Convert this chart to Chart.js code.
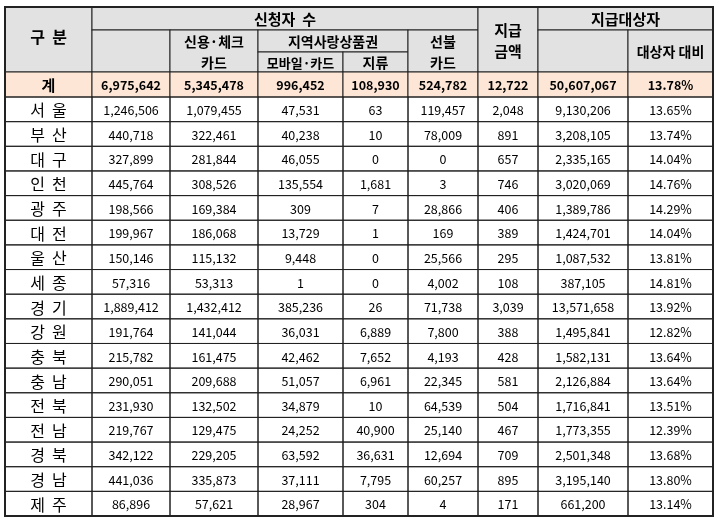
<!DOCTYPE html>
<html>
<head>
<meta charset="utf-8">
<script src="https://cdn.jsdelivr.net/npm/chart.js@4/dist/chart.umd.min.js"></script>
<style>
body{margin:0;background:#fff}
#wrap{width:720px;height:522px}
</style>
</head>
<body>
<div id="wrap"><canvas id="table" width="720" height="522"></canvas></div>
<script>
// =============================
// DATA
// =============================

const regions=["서  울","부  산","대  구","인  천","광  주","대  전","울  산","세  종","경  기","강  원","충  북","충  남","전  북","전  남","경  북","경  남","제  주"]
const applicants=[1246506,440718,327899,445764,198566,199967,150146,57316,1889412,191764,215782,290051,231930,219767,342122,441036,86896]
const creditCard=[1079455,322461,281844,308526,169384,186068,115132,53313,1432412,141044,161475,209688,132502,129475,229205,335873,57621]
const mobileCard=[47531,40238,46055,135554,309,13729,9448,1,385236,36031,42462,51057,34879,24252,63592,37111,28967]
const paperVoucher=[63,10,0,1681,7,1,0,0,26,6889,7652,6961,10,40900,36631,7795,304]
const prepaidCard=[119457,78009,0,3,28866,169,25566,4002,71738,7800,4193,22345,64539,25140,12694,60257,4]
const payAmount=[2048,891,657,746,406,389,295,108,3039,388,428,581,504,467,709,895,171]
const targets=[9130206,3208105,2335165,3020069,1389786,1424701,1087532,387105,13571658,1495841,1582131,2126884,1716841,1773355,2501348,3195140,661200]
const ratio=["13.65%","13.74%","14.04%","14.76%","14.29%","14.04%","13.81%","14.81%","13.92%","12.82%","13.64%","13.64%","13.51%","12.39%","13.68%","13.80%","13.14%"]
const totals=["6,975,642","5,345,478","996,452","108,930","524,782","12,722","50,607,067","13.78%"]

// =============================
// LAYOUT (scale units)
// =============================

const colEdges=[5,92,170,258,343,408,478,538,628,713]
const headEdges=[7,30,52,72,97]
const rowBottom=516
const rowH=(rowBottom-headEdges[4])/regions.length

const FONT='"Noto Sans CJK KR","Noto Sans",sans-serif'

// [col0,col1,row0,row1,text,size,yShift]
const headerCells=[
[0,1,0,3,"구  분",16,-4],
[1,6,0,1,"신청자  수",15,0],
[1,2,1,3,"",13,0],
[2,3,1,3,"신용·체크\n카드",14,0],
[3,5,1,2,"지역사랑상품권",14,0],
[3,4,2,3,"모바일·카드",13,0],
[4,5,2,3,"지류",14,0],
[5,6,1,3,"선불\n카드",14,0],
[6,7,0,3,"지급\n금액",15,0],
[7,9,0,1,"지급대상자",15,0],
[7,8,1,3,"",13,0],
[8,9,1,3,"대상자 대비",14,0]
]

const fmt=v=>v.toLocaleString("en-US")

// =============================
// TABLE PLUGIN
// =============================

const tablePlugin={
id:"tableDraw",
afterDraw(chart){

const ctx=chart.ctx
const xs=chart.scales.x
const ys=chart.scales.y
const X=v=>xs.getPixelForValue(v)
const Y=v=>ys.getPixelForValue(v)

ctx.save()
ctx.textAlign="center"
ctx.textBaseline="middle"

function cell(x0,x1,y0,y1,fill,text,font,dy){
const px=X(x0),py=Y(y0),w=X(x1)-px,h=Y(y1)-py
if(fill){ctx.fillStyle=fill;ctx.fillRect(px,py,w,h)}
ctx.strokeStyle="#222"
ctx.lineWidth=1
ctx.strokeRect(px,py,w,h)
if(text){
ctx.fillStyle="#000"
ctx.font=font
const lines=text.split("\n")
const lh=21
lines.forEach((t,i)=>{
ctx.fillText(t,px+w/2,py+h/2+(i-(lines.length-1)/2)*lh+1+(dy||0))
})
}
}

// header
headerCells.forEach(c=>{
cell(colEdges[c[0]],colEdges[c[1]],headEdges[c[2]],headEdges[c[3]],"#e2e2e2",c[4],"bold "+c[5]+"px "+FONT,c[6])
})

// total row
cell(colEdges[0],colEdges[1],headEdges[3],headEdges[4],"#fde6d6","계","bold 15px "+FONT)
totals.forEach((t,i)=>{
cell(colEdges[i+1],colEdges[i+2],headEdges[3],headEdges[4],"#fde6d6",t,"bold 12.5px "+FONT)
})

// data rows
regions.forEach((r,i)=>{
const y0=headEdges[4]+i*rowH,y1=y0+rowH
const vals=[fmt(applicants[i]),fmt(creditCard[i]),fmt(mobileCard[i]),fmt(paperVoucher[i]),fmt(prepaidCard[i]),fmt(payAmount[i]),fmt(targets[i]),ratio[i]]
cell(colEdges[0],colEdges[1],y0,y1,null,r,"16px "+FONT)
vals.forEach((v,j)=>{
cell(colEdges[j+1],colEdges[j+2],y0,y1,null,v,"12.5px "+FONT)
})
})

// outer frame
ctx.strokeStyle="#222"
ctx.lineWidth=2
ctx.strokeRect(X(colEdges[0]),Y(headEdges[0]),X(colEdges[9])-X(colEdges[0]),Y(rowBottom)-Y(headEdges[0]))
ctx.restore()

}
}

// =============================
// CHART
// =============================

new Chart(document.getElementById("table"),{
type:"scatter",
data:{datasets:[{data:[],pointRadius:0}]},
options:{
responsive:false,
animation:false,
layout:{padding:0},
plugins:{legend:{display:false},tooltip:{enabled:false}},
scales:{
x:{type:"linear",min:0,max:720,display:false},
y:{type:"linear",min:0,max:522,reverse:true,display:false}
}
},
plugins:[tablePlugin]
})
</script>
</body>
</html>
